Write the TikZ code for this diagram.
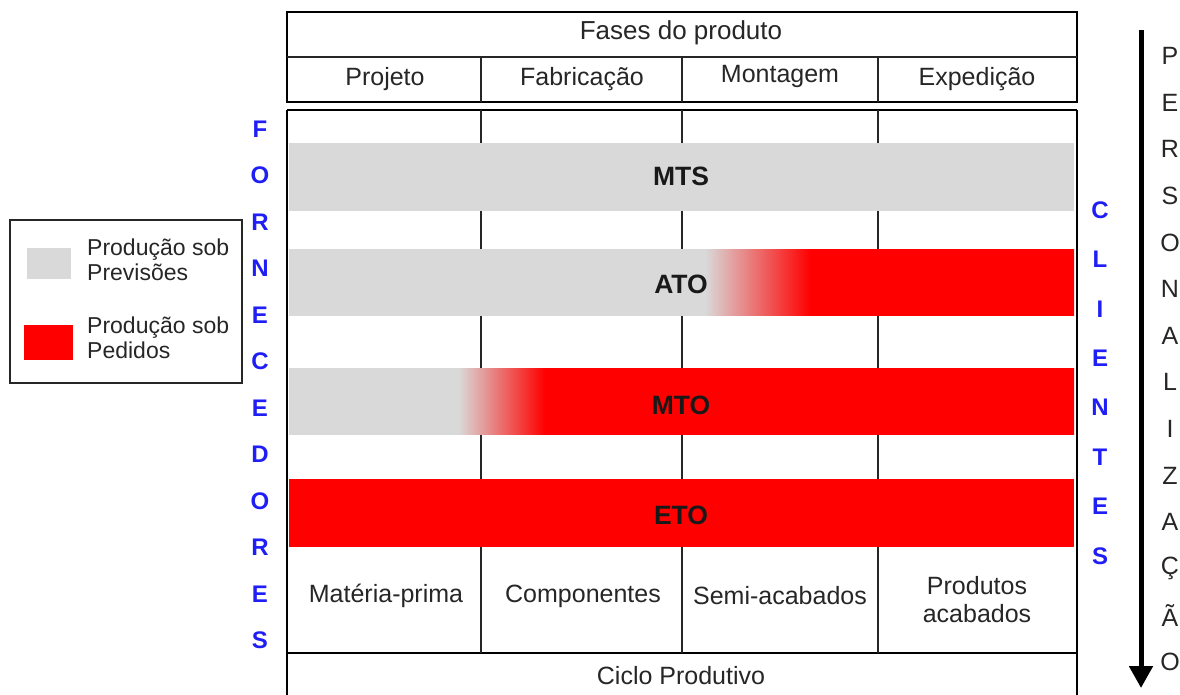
\documentclass[tikz,border=0pt]{standalone}
\usepackage{fontspec}
\setmainfont{Liberation Sans}
\usetikzlibrary{arrows.meta}
\definecolor{previsao}{HTML}{D9D9D9}
\definecolor{pedido}{HTML}{FF0000}
\definecolor{azul}{HTML}{1F1FF5}
\pgfdeclarehorizontalshading{atoshade}{100bp}{color(0bp)=(previsao); color(51.5bp)=(previsao);
 color(58.2bp)=(pedido); color(100bp)=(pedido)}
\pgfdeclarehorizontalshading{mtoshade}{100bp}{color(0bp)=(previsao); color(35.8bp)=(previsao);
 color(41.3bp)=(pedido); color(100bp)=(pedido)}
\tikzset{txt/.style={font=\fontsize{25}{28}\selectfont, text=black!85, inner sep=0pt},
 sigla/.style={font=\fontsize{26.5}{30}\selectfont\bfseries, text=black!90, inner sep=0pt},
 letra/.style={font=\fontsize{24}{28}\selectfont\bfseries, text=azul, inner sep=0pt},
 borda/.style={line width=2.6},
 coluna/.style={line width=1.6, black!85},
 }

\begin{document}
\begin{tikzpicture}[x=1pt, y=-1pt]
        \useasboundingbox (0,0) rectangle (1180,694);
        \clip (0,0) rectangle (1180,694);

        % fases do produto
        \draw[borda] (287,12) rectangle (1077,102);
        \draw[coluna] (287,57) -- (1077,57);
        \node[txt, font=\fontsize{26}{30}\selectfont] (fases) at (681,33) {Fases do produto};
        \foreach \x/\y/\f[count=\i] in {385/79/Projeto, 582/79/Fabricação, 780/76/Montagem, 977/79/Expedição} {
            \node[txt] (fase\i) at (\x,\y) {\f};
        }

        % quadro principal
        \draw[borda] (287,110) -- (1077,110);
        \draw[borda] (287,110) -- (287,700);
        \draw[borda] (1077,110) -- (1077,700);
        \draw[borda] (287,653) -- (1077,653);
        \foreach \x in {481, 682, 878} {
            \draw[coluna] (\x,57) -- (\x,102);
            \draw[coluna] (\x,110) -- (\x,653);
        }

        % faixas
        \fill[previsao] (289,143) rectangle (1074,211);
        \shade[shading=atoshade] (289,249) rectangle (1074,315);
        \shade[shading=mtoshade] (289,368) rectangle (1074,434);
        \fill[pedido] (289,479) rectangle (1074,547);
        \node[sigla] (mts) at (681,176) {MTS};
        \node[sigla] (ato) at (681,284) {ATO};
        \node[sigla] (mto) at (681,405) {MTO};
        \node[sigla] (eto) at (681,515) {ETO};

        % estoques e ciclo
        \node[txt] (mp) at (386,596) {Matéria-prima};
        \node[txt] (comp) at (583,596) {Componentes};
        \node[txt] (semi) at (780,596) {Semi-acabados};
        \node[txt, align=center] (prod) at (977,600) {Produtos\\acabados};
        \node[txt] (ciclo) at (681,676) {Ciclo Produtivo};

        % fornecedores, clientes, personalizacao
        \foreach \l[count=\i] in {F,O,R,N,E,C,E,D,O,R,E,S} {
            \node[letra] (forn\i) at (260,{129+46.5*(\i-1)}) {\l};
        }
        \foreach \l[count=\i] in {C,L,I,E,N,T,E,S} {
            \node[letra] (cli\i) at (1100,{210+49.4*(\i-1)}) {\l};
        }
        \foreach \l[count=\i] in {P,E,R,S,O,N,A,L,I,Z,A,Ç,Ã,O} {
            \node[txt] (pers\i) at (1170,{56+46.6*(\i-1)}) {\l};
        }
        \coordinate (setaini) at (1141,30);
        \coordinate (setafim) at (1141,688);
        \draw[line width=5, -{Triangle[width=23pt, length=22pt]}] (setaini) -- (setafim);

        % legenda
        \draw[line width=1.5, black!85] (10,220) rectangle (242,383);
        \fill[previsao] (27,248) rectangle (71,279);
        \fill[pedido] (24,325) rectangle (73,360);
        \node[txt, align=left, anchor=west, font=\fontsize{23}{25}\selectfont] (legprev) at (87,260) {Produção sob\\Previsões};
        \node[txt, align=left, anchor=west, font=\fontsize{23}{25}\selectfont] (legped) at (87,338) {Produção sob\\Pedidos};
    \end{tikzpicture}
\end{document}
